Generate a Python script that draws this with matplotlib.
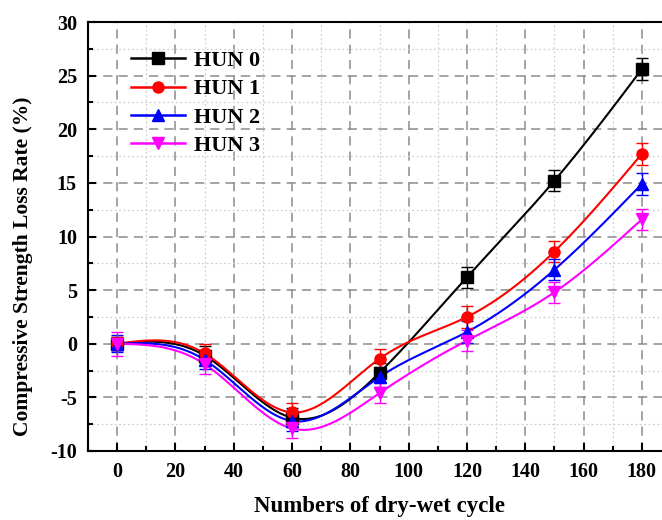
import numpy as np
import matplotlib
matplotlib.use("Agg")
import matplotlib.pyplot as plt
from matplotlib.lines import Line2D
from matplotlib.ticker import MultipleLocator

plt.rcParams["font.family"] = ["Liberation Serif", "DejaVu Serif"]
plt.rcParams["font.weight"] = "bold"
plt.rcParams["axes.unicode_minus"] = False

# ── data ──────────────────────────────────────────────────────────────────────
cycles = [0, 30, 60, 90, 120, 150, 180]
labels = ["HUN 0", "HUN 1", "HUN 2", "HUN 3"]
hun0 = [0.0, -1.1, -6.9, -2.7, 6.2, 15.2, 25.6]
hun1 = [0.0, -0.9, -6.4, -1.4, 2.5, 8.6, 17.7]
hun2 = [0.0, -1.5, -7.2, -3.1, 1.1, 6.9, 14.9]
hun3 = [0.0, -1.9, -7.9, -4.6, 0.3, 4.8, 11.6]
err0 = [0.6, 0.9, 0.9, 0.9, 1.0, 1.0, 1.0]
err1 = [0.6, 0.9, 0.9, 0.9, 1.0, 1.0, 1.0]
err2 = [0.8, 0.9, 0.9, 0.9, 1.0, 1.0, 1.0]
err3 = [1.1, 0.9, 0.9, 0.9, 1.0, 1.0, 1.0]

colors = ["black", "#ff0000", "#0000ff", "#ff00ff"]
markers = ["s", "o", "^", "v"]


def natural_spline(x, y, n=400):
    """natural cubic spline through (x, y)"""
    x = np.asarray(x, float)
    y = np.asarray(y, float)
    k = len(x)
    h = np.diff(x)
    A = np.zeros((k, k))
    b = np.zeros(k)
    A[0, 0] = A[-1, -1] = 1.0
    for i in range(1, k - 1):
        A[i, i - 1] = h[i - 1]
        A[i, i] = 2 * (h[i - 1] + h[i])
        A[i, i + 1] = h[i]
        b[i] = 6 * ((y[i + 1] - y[i]) / h[i] - (y[i] - y[i - 1]) / h[i - 1])
    M = np.linalg.solve(A, b)
    xs = np.linspace(x[0], x[-1], n)
    idx = np.clip(np.searchsorted(x, xs) - 1, 0, k - 2)
    x0, x1 = x[idx], x[idx + 1]
    hh = x1 - x0
    ys = (M[idx] * (x1 - xs) ** 3 / (6 * hh) + M[idx + 1] * (xs - x0) ** 3 / (6 * hh)
          + (y[idx] / hh - M[idx] * hh / 6) * (x1 - xs)
          + (y[idx + 1] / hh - M[idx + 1] * hh / 6) * (xs - x0))
    return xs, ys


fig = plt.figure(figsize=(6.62, 5.2), dpi=100)
ax = fig.add_axes([88 / 662, 69 / 520, 583 / 662, 429 / 520])

series = [hun0, hun1, hun2, hun3]
errs = [err0, err1, err2, err3]
handles = []
for ys, es, c, m, lb in zip(series, errs, colors, markers, labels):
    xs, sm = natural_spline(cycles, ys)
    ax.plot(xs, sm, color=c, lw=1.5, zorder=3)
    ax.errorbar(cycles, ys, yerr=es, fmt=m, color=c, ms=8, elinewidth=1.0,
                capsize=4, capthick=1.0, zorder=4)
    handles.append(Line2D([0], [0], color=c, lw=1.8, marker=m, ms=8, label=lb))

ax.set_xlim(-10, 190)
ax.set_ylim(-10, 30)
ax.xaxis.set_major_locator(MultipleLocator(20))
ax.xaxis.set_minor_locator(MultipleLocator(10))
ax.yaxis.set_major_locator(MultipleLocator(5))
ax.yaxis.set_minor_locator(MultipleLocator(2.5))
ax.set_xticks(range(0, 181, 20))

ax.grid(which="major", color="#8c8c8c", ls=(0, (6, 4)), lw=1.1, zorder=0)
ax.grid(which="minor", color="#cfcfcf", ls=(0, (1.5, 2)), lw=0.9, zorder=0)
ax.set_axisbelow(True)

ax.tick_params(which="major", direction="in", length=6, width=1.5,
               labelsize=14.5, pad=8)
ax.tick_params(which="minor", direction="in", length=3.5, width=1.5)
for sp in ax.spines.values():
    sp.set_linewidth(1.5)
for lbl in ax.get_xticklabels() + ax.get_yticklabels():
    lbl.set_fontweight("bold")

ax.set_xlabel("Numbers of dry-wet cycle", fontsize=16.5, fontweight="bold",
              labelpad=10)
ax.set_ylabel("Compressive Strength Loss Rate (%)", fontsize=15.5,
              fontweight="bold")
ax.yaxis.set_label_coords(-0.095, 0.43)

leg = ax.legend(handles=handles, loc="upper left", bbox_to_anchor=(0.04, 0.98),
                frameon=False, numpoints=1, handlelength=2.4, handletextpad=0.4,
                labelspacing=0.35, prop={"size": 16, "weight": "bold"})

fig.savefig("out.png", dpi=100)
